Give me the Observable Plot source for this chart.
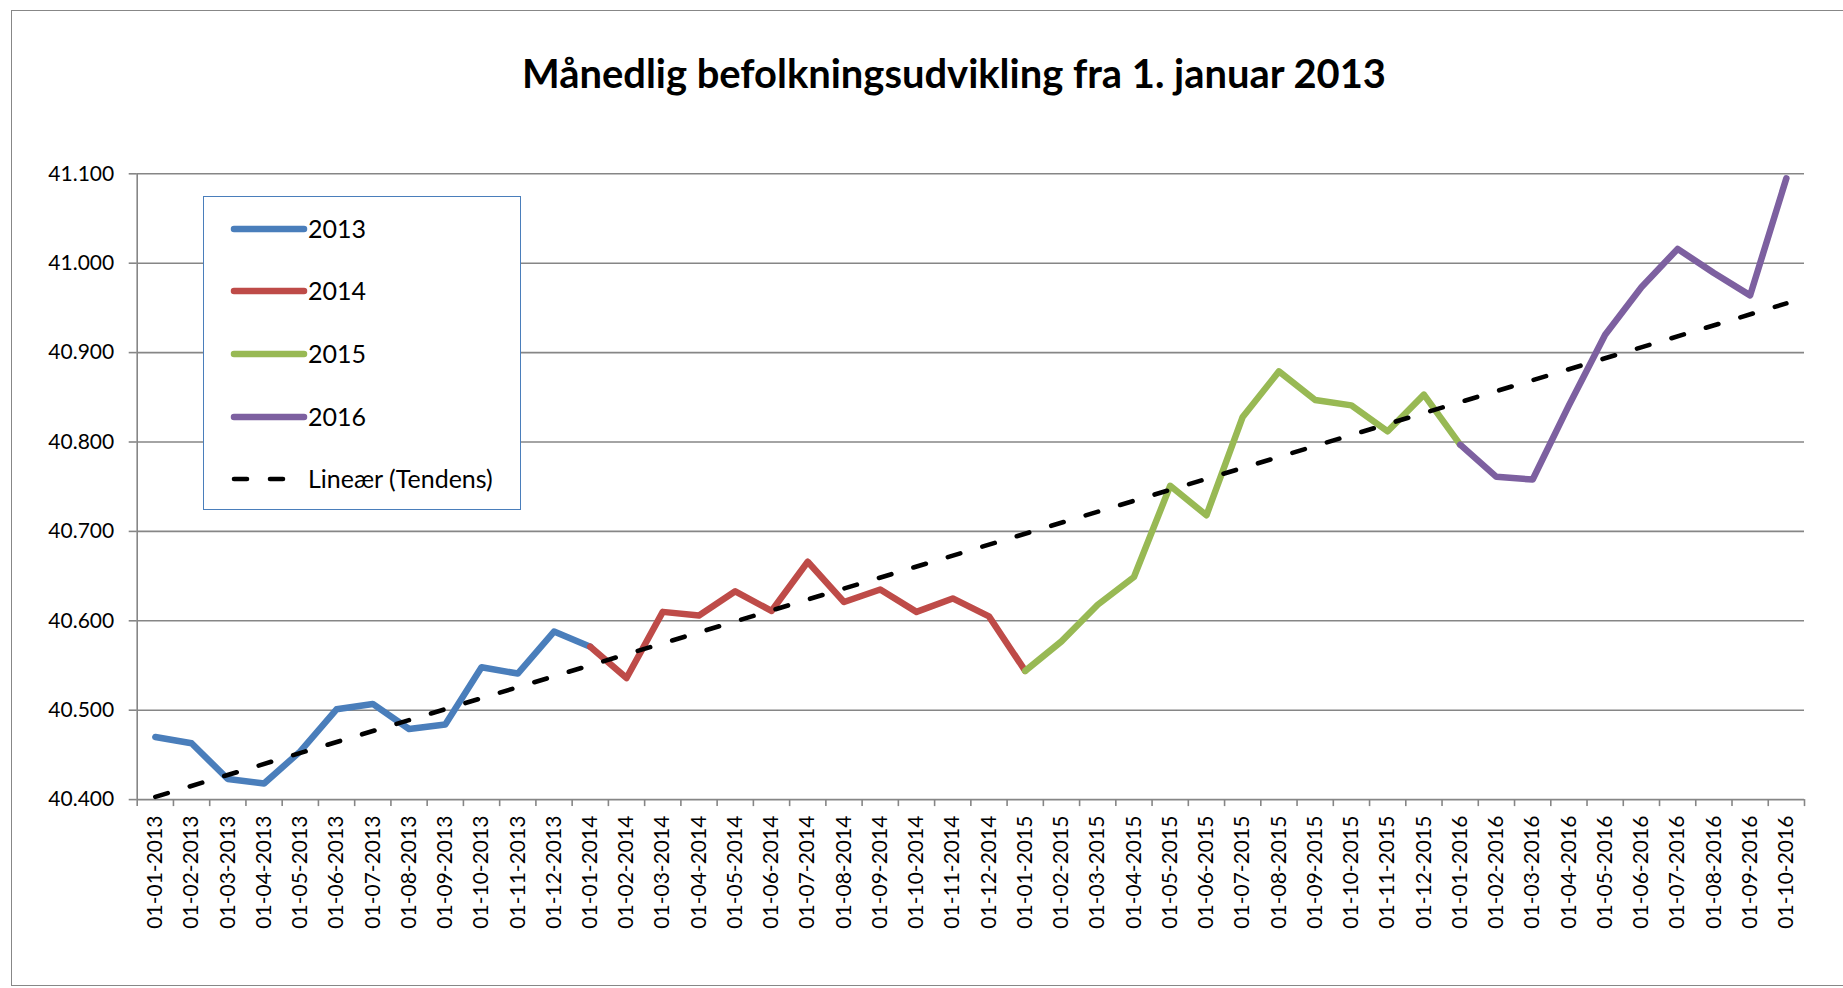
<!DOCTYPE html>
<html>
<head>
<meta charset="utf-8">
<script src="https://cdn.jsdelivr.net/npm/d3@7"></script>
<script src="https://cdn.jsdelivr.net/npm/@observablehq/plot@0.6"></script>
<style>
  html, body { margin: 0; padding: 0; background: #fff; }
  #wrap { position: relative; width: 1843px; height: 988px; overflow: hidden; font-family: Lato, "Open Sans", sans-serif; }
  #border { position: absolute; left: 11px; top: 9.5px; width: 1900px; height: 976px; border: 1.6px solid #878787; box-sizing: border-box; }
  #title { position: absolute; left: 354px; width: 1200px; top: 49px; text-align: center; font-weight: 700; font-size: 39.9px; line-height: 1.2; color: #000; }
  #plot { position: absolute; left: 0; top: 0; }
  #legend { position: absolute; left: 203px; top: 196px; width: 318px; height: 314px; border: 1.6px solid #4A7EBB; box-sizing: border-box; background: #fff; }
  .row { position: absolute; left: 0; height: 40px; width: 100%; }
  .row svg { position: absolute; left: 26px; top: 0; }
  .row span { position: absolute; left: 104px; top: 50%; transform: translateY(-52%); font-size: 25px; line-height: 1; color: #000; white-space: nowrap; }
</style>
</head>
<body>
<div id="wrap">
  <div id="border"></div>
  <div id="plot"></div>
  <div id="title">Månedlig befolkningsudvikling fra 1. januar 2013</div>
  <div id="legend"></div>
</div>
<script>
// Tick labels (one per month)
const monthLabels = [
  "01-01-2013","01-02-2013","01-03-2013","01-04-2013","01-05-2013","01-06-2013",
  "01-07-2013","01-08-2013","01-09-2013","01-10-2013","01-11-2013","01-12-2013",
  "01-01-2014","01-02-2014","01-03-2014","01-04-2014","01-05-2014","01-06-2014",
  "01-07-2014","01-08-2014","01-09-2014","01-10-2014","01-11-2014","01-12-2014",
  "01-01-2015","01-02-2015","01-03-2015","01-04-2015","01-05-2015","01-06-2015",
  "01-07-2015","01-08-2015","01-09-2015","01-10-2015","01-11-2015","01-12-2015",
  "01-01-2016","01-02-2016","01-03-2016","01-04-2016","01-05-2016","01-06-2016",
  "01-07-2016","01-08-2016","01-09-2016","01-10-2016"
];

// Population on the first of each month
const pop2013 = [40470, 40463, 40423, 40418, 40454, 40501, 40507, 40479, 40484, 40548, 40541, 40588];
const pop2014 = [40571, 40536, 40610, 40606, 40633, 40611, 40666, 40621, 40635, 40610, 40625, 40605];
const pop2015 = [40544, 40577, 40618, 40649, 40751, 40718, 40828, 40879, 40847, 40841, 40812, 40853];
const pop2016 = [40797, 40761, 40758, 40841, 40920, 40973, 41016, 40989, 40964, 41095];

const seriesNames = ["2013", "2014", "2015", "2016"];
const seriesColors = ["#4A7EBB", "#BE4B48", "#98B954", "#7D60A0"];
const trendName = "Lineær (Tendens)";
const yTicks = [40400, 40500, 40600, 40700, 40800, 40900, 41000, 41100];

const values = [...pop2013, ...pop2014, ...pop2015, ...pop2016];
const data = values.map((v, i) => ({i, v, label: monthLabels[i]}));

// each year's series runs from its January to the next January
const segments = seriesNames.map((name, k) => ({
  name, color: seriesColors[k],
  pts: data.filter(d => d.i >= 12 * k && d.i <= 12 * k + 12)
}));

const fmt = d => d3.format(",")(d).replace(/,/g, ".");
const idx = d3.range(monthLabels.length);
const bounds = d3.range(monthLabels.length + 1).map(b => b - 0.5);

const chart = Plot.plot({
  width: 1843,
  height: 988,
  marginLeft: 136.7,
  marginRight: 39,
  marginTop: 173.3,
  marginBottom: 188.9,
  style: {fontFamily: "Lato, 'Open Sans', sans-serif", fontSize: "21px", color: "#000", background: "transparent", overflow: "visible"},
  x: {type: "linear", domain: [-0.5, monthLabels.length - 0.5]},
  y: {domain: [40400, 41100]},
  marks: [
    Plot.gridY(yTicks, {stroke: "#868686", strokeOpacity: 1, strokeWidth: 1.6}),
    Plot.axisY({ticks: yTicks, tickFormat: fmt, tickSize: 8, tickPadding: 15, stroke: "#868686", strokeOpacity: 1, strokeWidth: 1.6, label: null, fontSize: "21px"}),
    Plot.axisX({ticks: bounds, tickFormat: () => "", tickSize: 7, stroke: "#868686", strokeOpacity: 1, strokeWidth: 1.6, label: null}),
    Plot.axisX({ticks: idx, tickFormat: i => monthLabels[i], tickSize: 0, tickPadding: 16, tickRotate: -90, label: null, fontSize: "21px"}),
    Plot.ruleX([-0.5], {y1: 40400, y2: 41100, stroke: "#868686", strokeWidth: 1.6}),
    ...segments.map(s => Plot.line(s.pts, {x: "i", y: "v", stroke: s.color, strokeWidth: 6.5, strokeLinejoin: "round", strokeLinecap: "round"})),
    Plot.linearRegressionY(data, {x: "i", y: "v", ci: 0, stroke: "#000", strokeWidth: 4.6, strokeDasharray: "13,23", strokeLinecap: "round"})
  ]
});
document.getElementById("plot").appendChild(chart);

// Legend
const legend = document.getElementById("legend");
const rowCenters = [31.7, 94.4, 157, 219.7, 282.4];
const items = [
  ...seriesNames.map((n, k) => ({name: n, color: seriesColors[k], dash: null})),
  {name: trendName, color: "#000", dash: "13,23"}
];
items.forEach((it, k) => {
  const row = document.createElement("div");
  row.className = "row";
  row.style.top = (rowCenters[k] - 20) + "px";
  const w = it.dash ? 56 : 70;
  const sw = it.dash ? 4.6 : 6.5;
  row.innerHTML = `<svg width="80" height="40"><line x1="4" x2="${4 + w}" y1="20" y2="20" stroke="${it.color}" stroke-width="${sw}" stroke-linecap="round" ${it.dash ? `stroke-dasharray="${it.dash}"` : ""}/></svg><span>${it.name}</span>`;
  legend.appendChild(row);
});
</script>
</body>
</html>
